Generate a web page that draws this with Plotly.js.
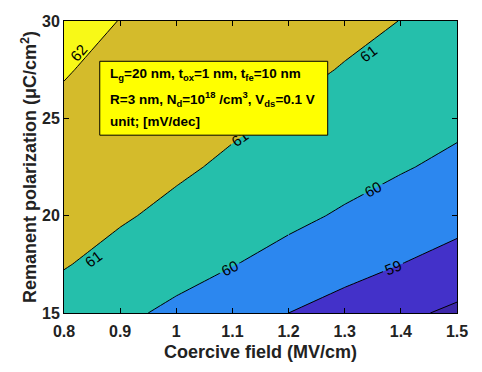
<!DOCTYPE html>
<html>
<head>
<meta charset="utf-8">
<script src="https://cdn.plot.ly/plotly-3.0.1.min.js"></script>
<style>
  html, body { margin: 0; padding: 0; background: #fff; }
  #chart { width: 482px; height: 372px; }
</style>
</head>
<body>
<div id="chart"></div>
<script>
// coercive field (MV/cm) and remanent polarization (uC/cm2) grid
const coerciveField = [0.8, 0.9, 1.0, 1.1, 1.2, 1.3, 1.4, 1.5];
const remanentPol = [15, 17.5, 20, 22.5, 25, 27.5, 30];

// subthreshold swing (mV/dec), one row per polarization value
const ss_15   = [60.60, 60.20, 59.80, 59.40, 59.00, 58.61, 58.21, 57.81];
const ss_17_5 = [61.05, 60.71, 60.37, 60.03, 59.69, 59.35, 59.00, 58.66];
const ss_20   = [61.39, 61.09, 60.80, 60.50, 60.20, 59.90, 59.60, 59.30];
const ss_22_5 = [61.66, 61.39, 61.13, 60.86, 60.60, 60.33, 60.07, 59.80];
const ss_25   = [61.87, 61.63, 61.39, 61.15, 60.91, 60.68, 60.44, 60.20];
const ss_27_5 = [62.04, 61.83, 61.61, 61.39, 61.18, 60.96, 60.74, 60.52];
const ss_30   = [62.19, 61.99, 61.79, 61.59, 61.39, 61.19, 60.99, 60.80];

const contourLevels = [58, 59, 60, 61, 62];

const xTicks = [0.8, 0.9, 1.0, 1.1, 1.2, 1.3, 1.4, 1.5];
const xTickText = ['0.8', '0.9', '1', '1.1', '1.2', '1.3', '1.4', '1.5'];
const yTicks = [15, 20, 25, 30];

const boxLines = [
  'L<sub>g</sub>=20 nm, t<sub>ox</sub>=1 nm, t<sub>fe</sub>=10 nm',
  'R=3 nm, N<sub>d</sub>=10<sup>18</sup> /cm<sup>3</sup>, V<sub>ds</sub>=0.1 V',
  'unit; [mV/dec]'
];

// labels plotly can't place itself (line piece too short or under the box)
const extraLabels = ['62', '61', '61'];
const extraLabelX = [0.826, 0.853, 1.342];
const extraLabelY = [28.4, 17.8, 28.33];

const zGrid = [ss_15, ss_17_5, ss_20, ss_22_5, ss_25, ss_27_5, ss_30];
const fontFam = 'Liberation Sans, Arial, sans-serif';

// parula-like bands, stepped so each band gets one flat colour
const bandColors = ['#3d27a9', '#4331c9', '#2c87ef', '#25bfab', '#d4bb2b', '#f8f917'];
const colorscale = [];
bandColors.forEach((c, i) => {
  const lo = i === 0 ? 0 : (i - 0.5) / 5;
  const hi = i === bandColors.length - 1 ? 1 : (i + 0.5) / 5;
  colorscale.push([lo, c], [hi, c]);
});

const fillTrace = {
  type: 'contour',
  x: coerciveField, y: remanentPol, z: zGrid,
  colorscale: colorscale,
  showscale: false,
  autocontour: false,
  contours: { start: 58, end: 62, size: 1, coloring: 'fill', showlabels: false },
  line: { width: 0, smoothing: 0 },
  hoverinfo: 'skip'
};

// which column ranges of the grid each level's line is drawn in,
// so the long 60 line can carry two labels like the original
function piecesFor(lv) {
  if (lv === 60) return [[0, 4, true], [4, 7, true]];
  if (lv === 58 || lv === 62) return [[0, 7, false]];
  return [[0, 7, true]];
}

const lineTraces = [];
contourLevels.forEach(lv => {
  piecesFor(lv).forEach(([c0, c1, lab]) => {
    lineTraces.push({
      type: 'contour',
      x: coerciveField.slice(c0, c1 + 1),
      y: remanentPol,
      z: zGrid.map(row => row.slice(c0, c1 + 1)),
      colorscale: [[0, '#000'], [1, '#000']],
      showscale: false,
      autocontour: false,
      contours: {
        start: lv, end: lv, size: 1,
        coloring: 'lines',
        showlabels: lab,
        labelfont: { family: fontFam, size: 15, color: '#000' }
      },
      line: { color: '#000', width: 1, smoothing: 0 },
      hoverinfo: 'skip'
    });
  });
});

const annotations = boxLines.map((t, i) => ({
  xref: 'paper', yref: 'paper',
  x: 0.111, y: [0.818, 0.733, 0.656][i],
  xanchor: 'left', yanchor: 'middle',
  text: '<b>' + t + '</b>',
  showarrow: false,
  font: { family: fontFam, size: 13.5, color: '#000' }
}));

extraLabels.forEach((t, i) => {
  annotations.push({
    xref: 'x', yref: 'y', x: extraLabelX[i], y: extraLabelY[i],
    text: t, showarrow: false,
    textangle: t === '62' ? -49 : -37,
    borderpad: 0,
    font: { family: fontFam, size: 15, color: '#000' }
  });
});

const layout = {
  width: 482, height: 372,
  margin: { l: 64, r: 25, t: 21, b: 59 },
  paper_bgcolor: '#fff',
  plot_bgcolor: '#fff',
  showlegend: false,
  xaxis: {
    range: [0.8, 1.5],
    tickvals: xTicks, ticktext: xTickText,
    ticks: 'inside', ticklen: 5, tickcolor: '#000',
    ticklabelstandoff: 4,
    showline: true, linecolor: '#000', linewidth: 1, mirror: 'ticks',
    showgrid: false, zeroline: false,
    tickfont: { family: fontFam, size: 16, color: '#222', weight: 'bold' },
    title: { text: '<b>Coercive field (MV/cm)</b>', font: { family: fontFam, size: 18, color: '#222' }, standoff: 6 }
  },
  yaxis: {
    range: [15, 30],
    tickvals: yTicks,
    ticks: 'inside', ticklen: 5, tickcolor: '#000',
    showline: true, linecolor: '#000', linewidth: 1, mirror: 'ticks',
    showgrid: false, zeroline: false,
    tickfont: { family: fontFam, size: 16, color: '#222', weight: 'bold' },
    title: { text: '<b>Remanent polarization (μC/cm<sup>2</sup>)</b>', font: { family: fontFam, size: 18, color: '#222' }, standoff: 0 }
  },
  shapes: [{
    type: 'rect', xref: 'paper', yref: 'paper',
    x0: 0.091, x1: 0.671, y0: 0.609, y1: 0.862,
    fillcolor: '#ffff00', line: { color: '#000', width: 1 }, layer: 'above'
  }],
  annotations: annotations
};

Plotly.newPlot('chart', [fillTrace, ...lineTraces], layout, { displayModeBar: false, staticPlot: true });
</script>
</body>
</html>
